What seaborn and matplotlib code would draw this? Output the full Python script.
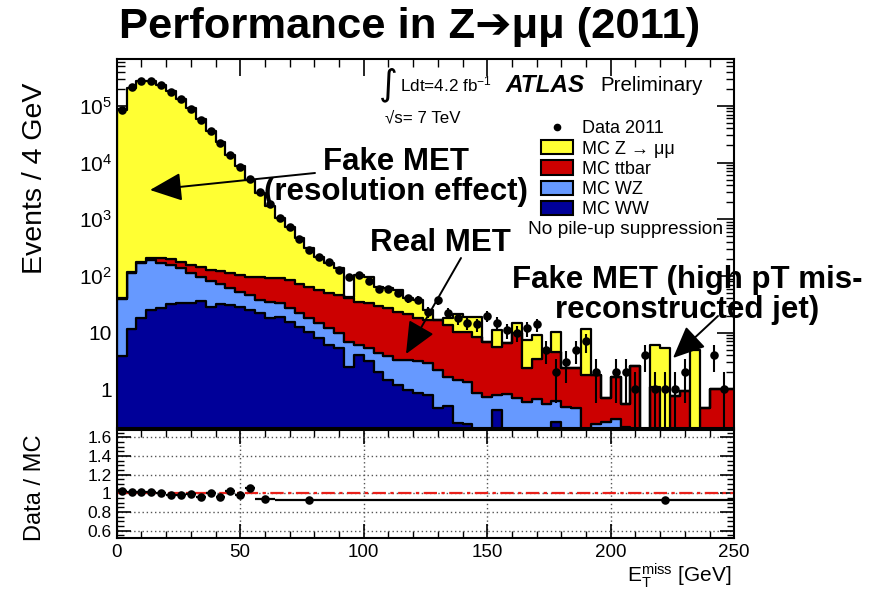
import numpy as np
import pandas as pd
import matplotlib
matplotlib.use("Agg")
import matplotlib.pyplot as plt
from matplotlib.patches import Patch, FancyArrowPatch
from matplotlib.lines import Line2D
from matplotlib.ticker import FixedLocator, FixedFormatter, MultipleLocator, LogLocator, NullFormatter
import seaborn as sns

# ---------------------------------------------------------------- binning
bin_width = 4.0
n_bins = 63
edges = np.arange(n_bins + 1) * bin_width
centers = edges[:-1] + bin_width / 2

# ---------------------------------------------------------------- events per 4 GeV bin
data_2011 = [85000, 214000, 276000, 276000, 235000, 179000, 131000, 89000, 56000, 36000,
             22000, 13700, 8400, 5100, 3000, 1870, 1040, 720, 445, 288,
             219, 174, 128, 97, 104, 80, 60, 58, 51, 40,
             38, 23, 37, 22, 18, 15, 14, 20, 15, 11,
             10, 12, 14, 5, 2, 3, 5, 7, 2, 0,
             2, 2, 1, 4, 1, 1, 1, 2, 0, 0,
             4, 1, 0]

mc_zmumu = [82860, 210085, 272825, 272795, 234786, 181300, 132622, 89743, 57954, 35872,
            22677, 13259, 8416, 4743, 2856, 1628, 947, 655, 404, 245,
            162, 116, 91, 3, 69, 64, 35, 35, 33, 19,
            20, 8, 0, 4.4, 10.6, 8.6, 10.5, 0, 5.3, 0,
            5.3, 5.0, 5.6, 0, 5.8, 0, 0, 9.6, 0, 0,
            0, 0, 0, 0, 5.0, 5.3, 0, 0, 4.9, 0,
            0, 0, 0]

mc_ttbar = [1.3, 4, 8, 20, 40, 44, 42, 46, 49, 47,
            52, 50, 51, 50, 56, 57, 60, 58, 49, 47,
            42.4, 39, 36.2, 33.1, 28.9, 27.7, 25.7, 23.2, 19.7, 17.7,
            14.9, 14.1, 14.8, 11.9, 8.9, 9.0, 7.65, 6.16, 4.9, 5.7,
            9.0, 1.8, 2.8, 4.35, 4.0, 1.9, 1.94, 1.8, 1.56, 0.42,
            1.37, 0.34, 2.6, 0, 1.1, 0, 0.75, 0.95, 0, 0.47,
            1.0, 1.0, 1.0]

mc_wz = [34.8, 99.4, 149, 166, 140, 124, 103, 78, 61, 53,
         39.4, 30.2, 25, 22, 16, 17, 14, 11.4, 9.2, 7.6,
         6.7, 5.9, 4.5, 4.4, 2.1, 2.2, 2.25, 2.34, 2.1, 2.33,
         2.25, 2.11, 1.74, 1.16, 1.2, 1.13, 0.85, 0.74, 0.36, 0.83,
         0.69, 0.61, 0.67, 0.55, 0.36, 0.49, 0.46, 0, 0.24, 0.27,
         0.30, 0.22, 0, 0, 0, 0, 0, 0, 0, 0,
         0, 0, 0]

mc_ww = [3.9, 11.6, 17.9, 25, 27, 31.6, 33, 33, 36, 28,
         31.6, 30.8, 28, 25, 22, 18, 19, 15.6, 12.8, 10.4,
         7.9, 6.1, 5.3, 2.5, 4.0, 3.1, 2.05, 1.46, 1.2, 0.97,
         0.85, 0.79, 0.46, 0.51, 0.26, 0.24, 0, 0, 0.43, 0,
         0, 0, 0, 0, 0.27, 0, 0, 0, 0, 0,
         0, 0, 0, 0, 0, 0, 0, 0, 0, 0,
         0, 0, 0]

# ---------------------------------------------------------------- Data / MC ratio
ratio_center = [2, 6, 10, 14, 18, 22, 26, 30, 34, 38, 42, 46, 50, 54, 60, 78, 222]
ratio_lo = [0, 4, 8, 12, 16, 20, 24, 28, 32, 36, 40, 44, 48, 52, 56, 64, 92]
ratio_hi = [4, 8, 12, 16, 20, 24, 28, 32, 36, 40, 44, 48, 52, 56, 64, 92, 250]
ratio_value = [1.025, 1.018, 1.011, 1.011, 1.0, 0.986, 0.986, 0.99, 0.964, 1.0,
               0.964, 1.025, 0.986, 1.054, 0.935, 0.927, 0.927]

processes = ["MC Z \u2192 \u03bc\u03bc", "MC ttbar", "MC WZ", "MC WW"]
colors = ["#ffff33", "#cc0000", "#6699ff", "#000099"]

# ---------------------------------------------------------------- style
sns.set_style("ticks")
plt.rcParams["font.family"] = ["Liberation Sans", "DejaVu Sans"]
plt.rcParams["mathtext.fontset"] = "custom"
plt.rcParams["mathtext.rm"] = "Liberation Sans"
plt.rcParams["mathtext.it"] = "Liberation Sans:italic"
plt.rcParams["mathtext.bf"] = "Liberation Sans:bold"
plt.rcParams["axes.linewidth"] = 1.5
for key in ["text.color", "axes.labelcolor", "xtick.color", "ytick.color", "axes.edgecolor"]:
    plt.rcParams[key] = "black"

W, H = 888, 592
fig = plt.figure(figsize=(W / 100, H / 100), dpi=100)


def fx(px):
    return px / W


def fy(py):
    return 1 - py / H


ax = fig.add_axes([fx(116.7), fy(428), fx(734.2) - fx(116.7), fy(59) - fy(428)])
axr = fig.add_axes([fx(116.7), fy(538), fx(734.2) - fx(116.7), fy(430) - fy(538)], sharex=ax)

# ---------------------------------------------------------------- stacked MC
frames = []
for name, vals in zip(processes, [mc_zmumu, mc_ttbar, mc_wz, mc_ww]):
    frames.append(pd.DataFrame({"met": centers, "events": vals, "process": name}))
mc = pd.concat(frames, ignore_index=True)

sns.histplot(data=mc, x="met", weights="events", hue="process", hue_order=processes,
             binwidth=bin_width, binrange=(edges[0], edges[-1]), multiple="stack",
             element="step", fill=True, alpha=1, palette=colors, edgecolor="black",
             linewidth=1.6, legend=False, ax=ax)

# ---------------------------------------------------------------- data points
data = np.array(data_2011, dtype=float)
has = data > 0
err = np.sqrt(data[has])
lower = np.minimum(err, data[has] - 1e-3)
ax.errorbar(centers[has], data[has], yerr=[lower, err], fmt="none", ecolor="black",
            elinewidth=1.5, capsize=0, zorder=5)
sns.scatterplot(x=centers[has], y=data[has], color="black", s=38, edgecolor="black",
                linewidth=0, zorder=6, ax=ax)

ax.set_yscale("log")
ax.set_xlim(0, 250)
ax.set_ylim(0.208, 6.7e5)
ax.set_xlabel("")
ax.set_ylabel("")
ax.yaxis.set_major_locator(FixedLocator([1, 10, 1e2, 1e3, 1e4, 1e5]))
ax.yaxis.set_major_formatter(FixedFormatter(["1", "10", "10$^{2}$", "10$^{3}$", "10$^{4}$", "10$^{5}$"]))
ax.yaxis.set_minor_locator(LogLocator(base=10, subs=np.arange(2, 10), numticks=20))
ax.yaxis.set_minor_formatter(NullFormatter())
ax.xaxis.set_major_locator(MultipleLocator(50))
ax.xaxis.set_minor_locator(MultipleLocator(10))
ax.tick_params(axis="both", which="both", direction="in", top=True, right=True)
ax.tick_params(axis="both", which="major", length=12, width=1.2, labelsize=15)
ax.tick_params(axis="both", which="minor", length=6, width=1.0)
ax.tick_params(axis="x", labelbottom=False)

# ---------------------------------------------------------------- ratio panel
rc = np.array(ratio_center, dtype=float)
xerr = [rc - np.array(ratio_lo), np.array(ratio_hi) - rc]
axr.axhline(1.0, color="#e8201a", lw=1.6, ls=(0, (6, 2, 1.5, 2)), zorder=2)
axr.errorbar(rc, ratio_value, xerr=xerr, fmt="none", ecolor="black", elinewidth=1.6,
             capsize=0, zorder=4)
sns.scatterplot(x=rc, y=ratio_value, color="black", s=38, linewidth=0, zorder=5, ax=axr)
axr.set_ylim(0.52, 1.68)
axr.set_xlim(0, 250)
axr.yaxis.set_major_locator(FixedLocator([0.6, 0.8, 1.0, 1.2, 1.4, 1.6]))
axr.yaxis.set_major_formatter(FixedFormatter(["0.6", "0.8", "1", "1.2", "1.4", "1.6"]))
axr.yaxis.set_minor_locator(MultipleLocator(0.05))
axr.xaxis.set_major_locator(MultipleLocator(50))
axr.xaxis.set_minor_locator(MultipleLocator(10))
axr.grid(True, which="major", color="#555555", ls=(0, (1, 2)), lw=1.0)
axr.set_axisbelow(True)
axr.tick_params(axis="both", which="both", direction="in", top=True, right=True)
axr.tick_params(axis="both", which="major", length=10, width=1.2)
axr.tick_params(axis="both", which="minor", length=5, width=1.0)
axr.tick_params(axis="y", labelsize=12.5)
axr.tick_params(axis="x", labelsize=13.5, pad=4)
axr.set_xlabel("")
axr.set_ylabel("")

# ---------------------------------------------------------------- axis titles
fig.text(fx(35), fy(178), "Events / 4 GeV", rotation=90, ha="center", va="center", fontsize=20.5)
fig.text(fx(35), fy(488), "Data / MC", rotation=90, ha="center", va="center", fontsize=17)
fig.text(fx(731), fy(576), "E$_{\\mathrm{T}}^{\\mathrm{miss}}$ [GeV]", ha="right", va="center", fontsize=15)

# ---------------------------------------------------------------- title
fig.text(fx(410), fy(27), "Performance in Z\u2794\u03bc\u03bc (2011)", ha="center", va="center",
         fontsize=31.3, fontweight="bold", family=["Liberation Sans", "DejaVu Sans"])

# ---------------------------------------------------------------- ATLAS label
fig.text(fx(379), fy(85), "\u222b", ha="left", va="center", fontsize=26, family=["DejaVu Sans"])
fig.text(fx(400), fy(84), "Ldt=4.2 fb$^{-1}$", ha="left", va="center", fontsize=12.3)
fig.text(fx(505), fy(85), "ATLAS", ha="left", va="center", fontsize=17.5, fontweight="bold", style="italic")
fig.text(fx(600), fy(85), "Preliminary", ha="left", va="center", fontsize=14.8)
fig.text(fx(385), fy(118), "\u221as= 7 TeV", ha="left", va="center", fontsize=12.2)

# ---------------------------------------------------------------- legend
handles = [Line2D([], [], marker="o", color="black", ls="none", markersize=4.5)]
handles += [Patch(facecolor=c, edgecolor="black", linewidth=1.5) for c in colors]
labels = ["Data 2011"] + processes
ax.legend(handles, labels, loc="upper left", bbox_to_anchor=(fx(540.7), fy(120)),
          bbox_transform=fig.transFigure, frameon=False, fontsize=13, handlelength=1.8,
          handleheight=0.83, handletextpad=0.47, labelspacing=0.16, borderpad=0,
          borderaxespad=0)
fig.text(fx(528), fy(229), "No pile-up suppression", ha="left", va="center", fontsize=13.8)

# ---------------------------------------------------------------- annotations
bold = dict(fontweight="bold", fontsize=22.5, ha="center", va="center", linespacing=1.0)
fig.text(fx(396), fy(177), "Fake MET\n(resolution effect)", **bold)
fig.text(fx(440), fy(243), "Real MET", **bold)
fig.text(fx(687), fy(295), "Fake MET (high pT mis-\nreconstructed jet)", **bold)

arrow = dict(arrowstyle="-|>,head_length=0.9,head_width=0.4", color="black", lw=1.4,
             mutation_scale=22, shrinkA=0, shrinkB=0)
for tail, tip in [((315, 173), (150, 190)), ((461, 258), (406, 354)), ((718, 316), (673, 358))]:
    fig.add_artist(FancyArrowPatch((fx(tail[0]), fy(tail[1])), (fx(tip[0]), fy(tip[1])),
                                   transform=fig.transFigure, **arrow))

fig.savefig("out.png", dpi=100)
